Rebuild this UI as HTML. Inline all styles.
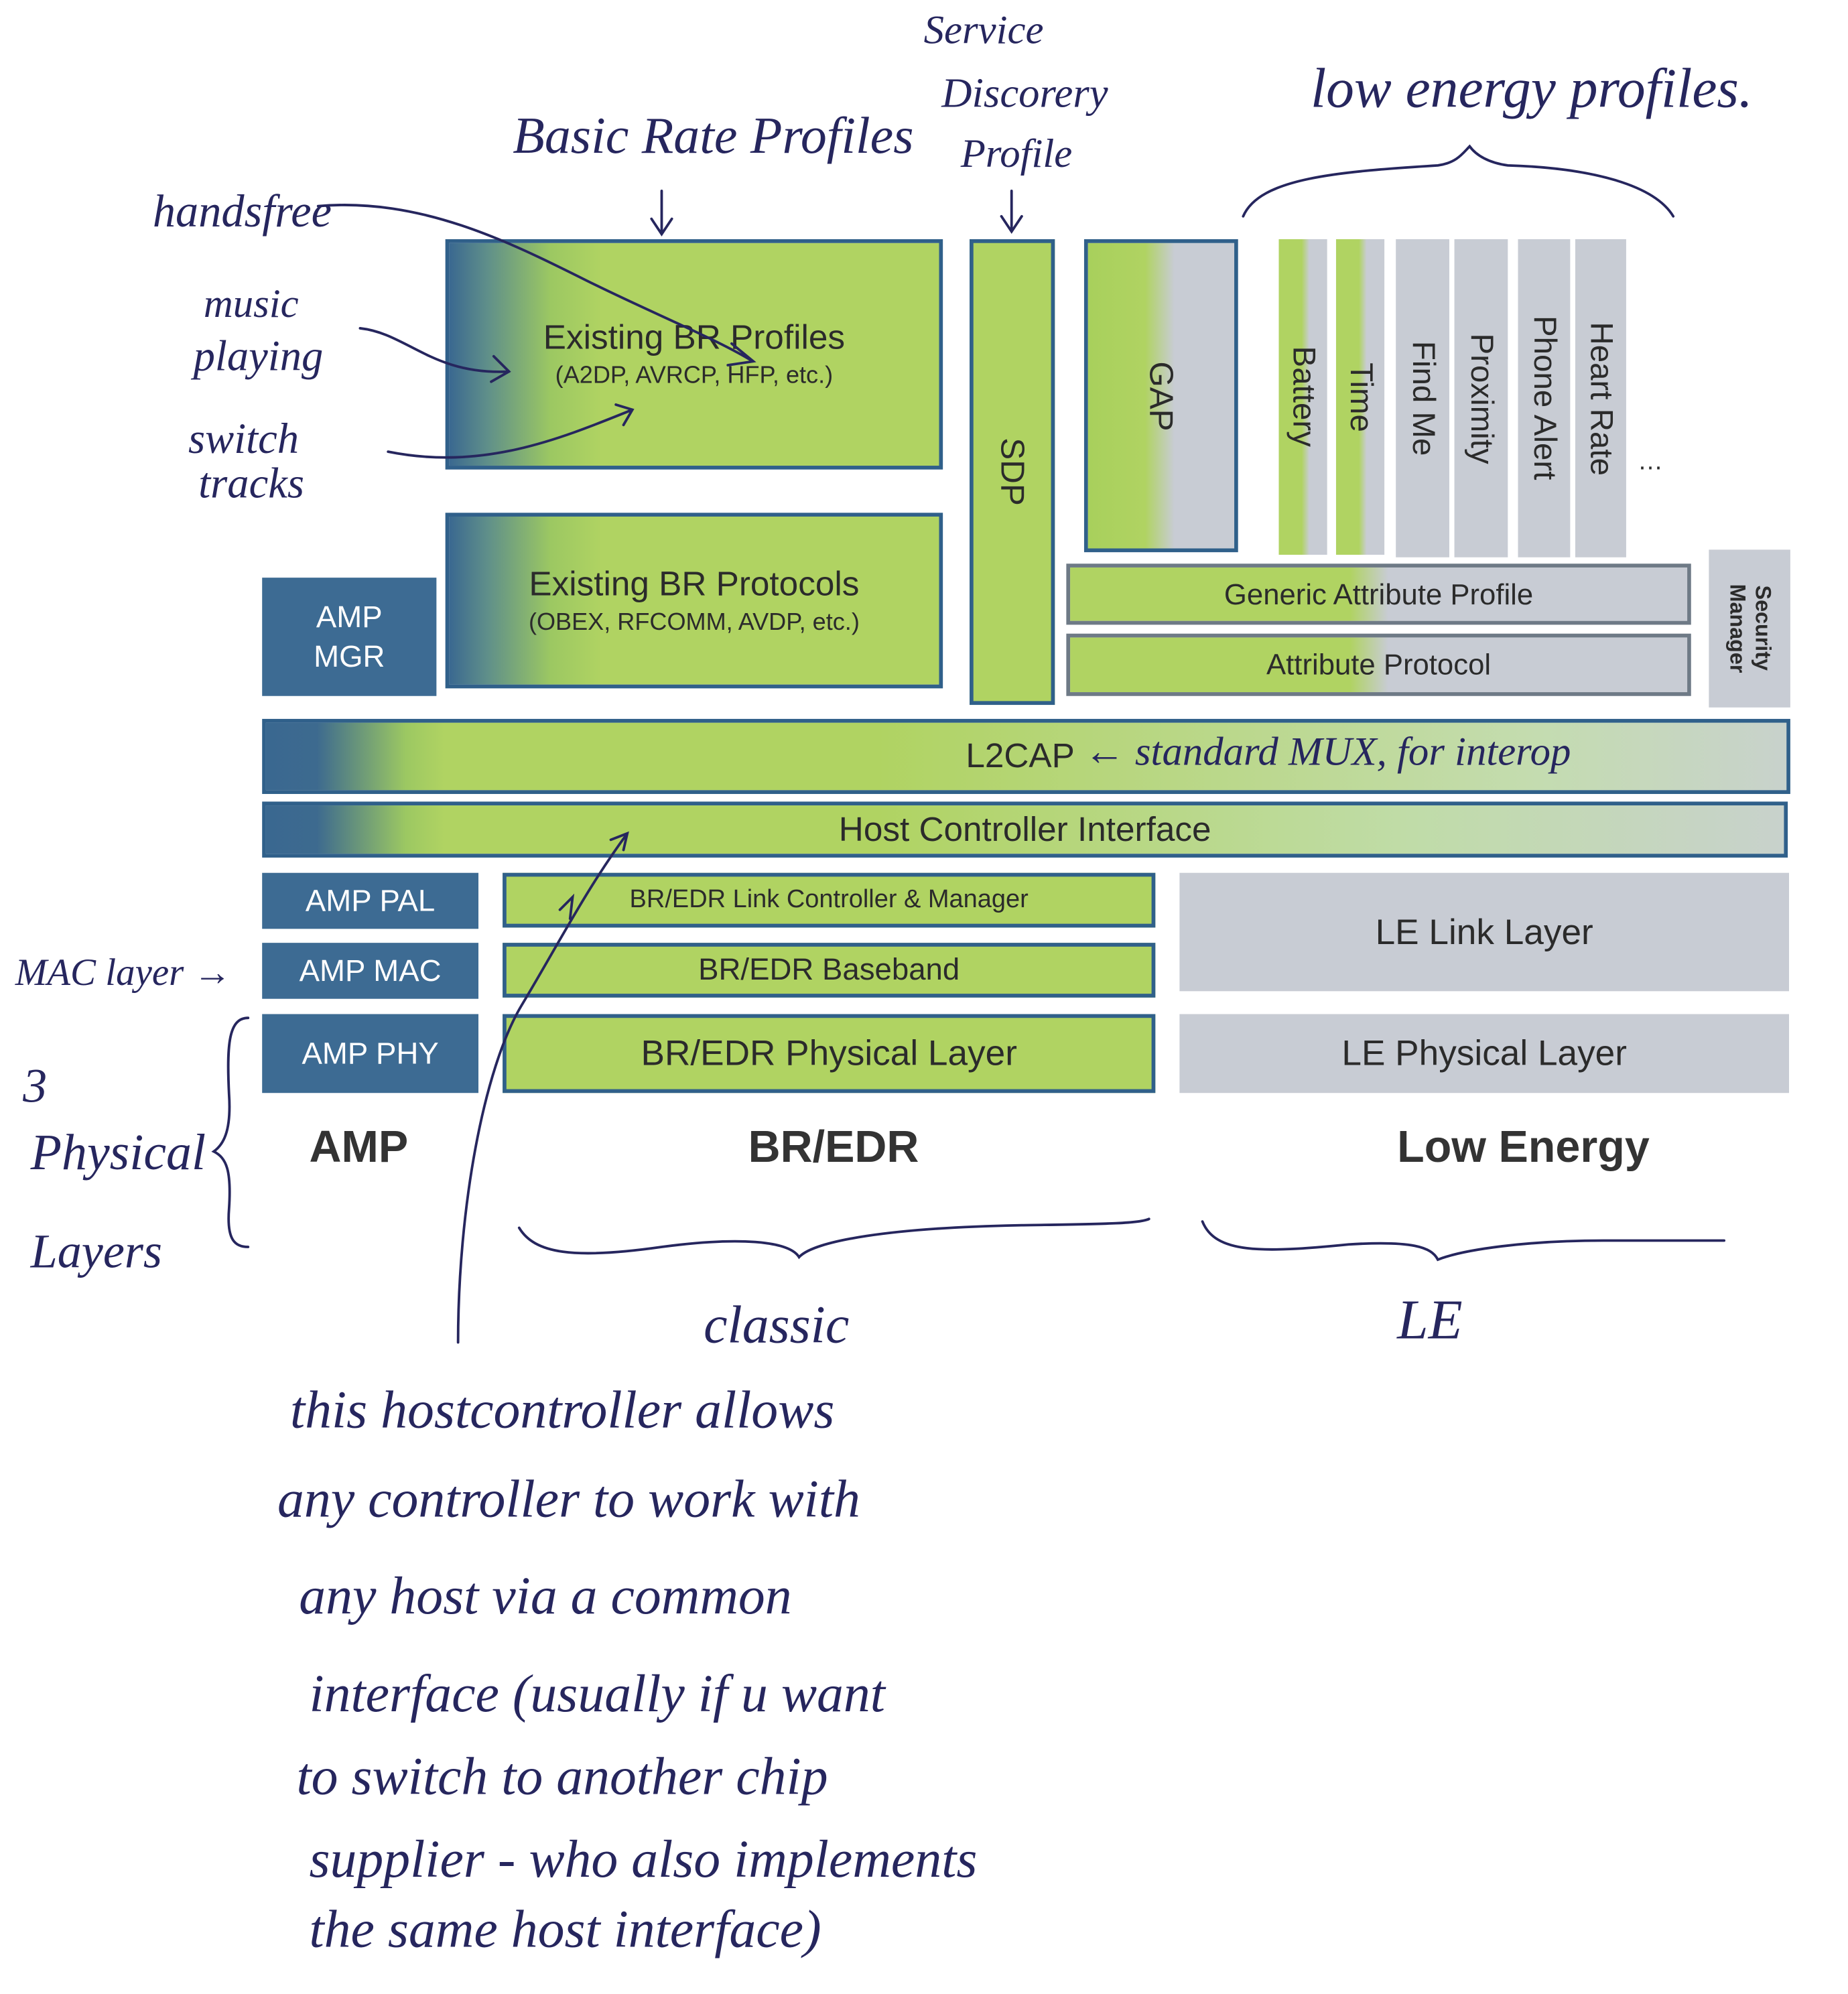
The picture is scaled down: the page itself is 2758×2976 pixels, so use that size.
<!DOCTYPE html>
<html><head><meta charset="utf-8"><style>
html,body{margin:0;padding:0;background:#fff;}
body{width:2758px;height:2976px;overflow:hidden;position:relative;}
#c{position:absolute;left:0;top:0;width:1452px;height:1567px;transform:scale(1.899);transform-origin:0 0;font-family:"Liberation Sans",sans-serif;color:#2b2b2b;}
.b{position:absolute;box-sizing:border-box;display:flex;align-items:center;justify-content:center;flex-direction:column;text-align:center;}
.g{background:linear-gradient(90deg,#3a6890 0,#5f8f8a 30px,#9cc862 80px,#b0d362 120px,#b0d362 100%);border:3px solid #30608a;}
.gr{background:#c8ccd4;}
.bl{background:#3d6b93;color:#fff;font-size:24px;line-height:31px;}
.v{writing-mode:vertical-rl;}
.h{position:absolute;font-family:"Liberation Serif",serif;font-style:italic;color:#26265e;white-space:nowrap;}
.lab{position:absolute;font-weight:bold;font-size:35px;color:#333;}
</style></head><body><div id="c">

<div class="b g" style="left:350px;top:188px;width:391px;height:181px;"><div style="font-size:27px">Existing BR Profiles</div><div style="font-size:19px;margin-top:4px">(A2DP, AVRCP, HFP, etc.)</div></div>
<div class="b g" style="left:350px;top:403px;width:391px;height:138px;"><div style="font-size:27px">Existing BR Protocols</div><div style="font-size:19px;margin-top:4px">(OBEX, RFCOMM, AVDP, etc.)</div></div>
<div class="b bl" style="left:206px;top:454px;width:137px;height:93px;">AMP<br>MGR</div>
<div class="b" style="left:762px;top:188px;width:67px;height:366px;background:#b0d362;border:3px solid #30608a;"><div class="v" style="font-size:26px">SDP</div></div>
<div class="b" style="left:852px;top:188px;width:121px;height:246px;background:linear-gradient(90deg,#a8d05c 0,#b0d362 45px,#c8ccd4 68px);border:3px solid #30608a;"><div class="v" style="font-size:26px">GAP</div></div>
<div class="b" style="left:1005px;top:188px;width:38px;height:248px;background:linear-gradient(90deg,#b0d362 0,#b0d362 18px,#c8ccd4 24px);"><div class="v" style="font-size:25px">Battery</div></div>
<div class="b" style="left:1050px;top:188px;width:38px;height:248px;background:linear-gradient(90deg,#b0d362 0,#b0d362 18px,#c8ccd4 24px);"><div class="v" style="font-size:25px">Time</div></div>
<div class="b gr" style="left:1097px;top:188px;width:42px;height:250px;"><div class="v" style="font-size:25px">Find Me</div></div>
<div class="b gr" style="left:1143px;top:188px;width:42px;height:250px;"><div class="v" style="font-size:25px">Proximity</div></div>
<div class="b gr" style="left:1193px;top:188px;width:41px;height:250px;"><div class="v" style="font-size:25px">Phone Alert</div></div>
<div class="b gr" style="left:1238px;top:188px;width:40px;height:250px;"><div class="v" style="font-size:25px">Heart Rate</div></div>
<div style="position:absolute;left:1287px;top:352px;font-size:20px;">…</div>
<div class="b" style="left:838px;top:443px;width:491px;height:48px;background:linear-gradient(90deg,#b0d362 0,#b0d362 220px,#c8ccd4 250px);border:3px solid #6e7a86;font-size:23px;">Generic Attribute Profile</div>
<div class="b" style="left:838px;top:498px;width:491px;height:49px;background:linear-gradient(90deg,#b0d362 0,#b0d362 220px,#c8ccd4 250px);border:3px solid #6e7a86;font-size:23px;">Attribute Protocol</div>
<div class="b gr" style="left:1343px;top:432px;width:64px;height:124px;"><div class="v" style="font-size:17px;font-weight:bold;line-height:20px">Security<br>Manager</div></div>
<div class="b" style="left:206px;top:565px;width:1201px;height:59px;background:linear-gradient(90deg,#3a6890 0,#3d6a8f 40px,#9cc862 110px,#b0d362 140px,#b0d362 480px,#c4dcb0 1000px,#c8d2cc 100%);border:3px solid #30608a;align-items:flex-start;padding-left:550px;font-size:27px;">L2CAP</div>
<div class="b" style="left:206px;top:630px;width:1199px;height:44px;background:linear-gradient(90deg,#3a6890 0,#3d6a8f 40px,#9cc862 110px,#b0d362 140px,#b0d362 480px,#c0dca8 900px,#c8d2cc 100%);border:3px solid #30608a;font-size:27px;">Host Controller Interface</div>
<div class="b bl" style="left:206px;top:686px;width:170px;height:44px;">AMP PAL</div>
<div class="b bl" style="left:206px;top:741px;width:170px;height:44px;">AMP MAC</div>
<div class="b bl" style="left:206px;top:797px;width:170px;height:62px;">AMP PHY</div>
<div class="b" style="left:395px;top:686px;width:513px;height:43px;background:#b0d362;border:3px solid #30608a;font-size:20px;">BR/EDR Link Controller &amp; Manager</div>
<div class="b" style="left:395px;top:741px;width:513px;height:43px;background:#b0d362;border:3px solid #30608a;font-size:24px;">BR/EDR Baseband</div>
<div class="b" style="left:395px;top:797px;width:513px;height:62px;background:#b0d362;border:3px solid #30608a;font-size:28px;">BR/EDR Physical Layer</div>
<div class="b gr" style="left:927px;top:686px;width:479px;height:93px;font-size:28px;">LE Link Layer</div>
<div class="b gr" style="left:927px;top:797px;width:479px;height:62px;font-size:28px;">LE Physical Layer</div>
<div class="lab" style="left:243px;top:882px;">AMP</div>
<div class="lab" style="left:588px;top:882px;">BR/EDR</div>
<div class="lab" style="left:1098px;top:882px;">Low Energy</div>

<div class="h" style="left:726px;top:5px;font-size:32px;">Service</div>
<div class="h" style="left:740px;top:56px;font-size:33px;">Discorery</div>
<div class="h" style="left:755px;top:102px;font-size:32px;">Profile</div>
<div class="h" style="left:403px;top:82px;font-size:41px;">Basic Rate Profiles</div>
<div class="h" style="left:1030px;top:44px;font-size:44px;">low energy profiles.</div>
<div class="h" style="left:120px;top:145px;font-size:36px;">handsfree</div>
<div class="h" style="left:160px;top:220px;font-size:32px;">music</div>
<div class="h" style="left:152px;top:262px;font-size:34px;">playing</div>
<div class="h" style="left:148px;top:327px;font-size:34px;">switch</div>
<div class="h" style="left:156px;top:362px;font-size:34px;">tracks</div>
<div class="h" style="left:852px;top:572px;font-size:32px;">← standard MUX, for interop</div>
<div class="h" style="left:12px;top:748px;font-size:30px;">MAC layer →</div>
<div class="h" style="left:18px;top:832px;font-size:38px;">3</div>
<div class="h" style="left:24px;top:882px;font-size:40px;">Physical</div>
<div class="h" style="left:24px;top:962px;font-size:38px;">Layers</div>
<div class="h" style="left:553px;top:1018px;font-size:42px;">classic</div>
<div class="h" style="left:1098px;top:1012px;font-size:44px;">LE</div>
<div class="h" style="left:228px;top:1085px;font-size:42px;">this hostcontroller allows</div>
<div class="h" style="left:218px;top:1155px;font-size:42px;">any controller to work with</div>
<div class="h" style="left:235px;top:1231px;font-size:42px;">any host via a common</div>
<div class="h" style="left:243px;top:1308px;font-size:42px;">interface (usually if u want</div>
<div class="h" style="left:233px;top:1373px;font-size:42px;">to switch to another chip</div>
<div class="h" style="left:243px;top:1438px;font-size:42px;">supplier - who also implements</div>
<div class="h" style="left:243px;top:1493px;font-size:42px;">the same host interface)</div>

<svg width="1452" height="1567" style="position:absolute;left:0;top:0" fill="none" stroke="#26265e" stroke-width="2" stroke-linecap="round">
<path d="M795 150 L795 180 M787 170 L795 182 L803 170"/>
<path d="M520 150 L520 182 M512 172 L520 184 L528 172"/>
<path d="M977 170 C990 140 1050 135 1130 130 C1145 128 1150 120 1155 115 C1160 122 1170 128 1185 130 C1250 132 1300 145 1315 170"/>
<path d="M250 162 C330 155 400 190 460 220 C510 245 560 265 590 283 M575 270 L592 284 L572 287"/>
<path d="M283 258 C320 262 340 295 400 292 M388 280 L400 292 L386 300"/>
<path d="M305 355 C380 370 440 345 497 322 M484 318 L497 322 L490 334"/>
<path d="M360 1055 C360 950 380 840 410 790 C440 740 460 700 493 655 M480 660 L493 655 L490 668"/>
<path d="M440 715 L450 705 L448 722"/>
<path d="M195 800 C180 800 178 820 180 860 C182 890 175 900 168 905 C178 910 182 920 180 950 C178 975 185 980 195 980"/>
<path d="M408 965 C420 985 450 990 520 980 C580 972 620 975 628 988 C640 975 700 965 800 963 C860 962 895 962 903 958"/>
<path d="M945 960 C955 985 990 985 1060 978 C1110 975 1125 980 1130 990 C1150 982 1200 975 1260 975 C1310 975 1340 975 1355 975"/>
</svg>
</div></body></html>
